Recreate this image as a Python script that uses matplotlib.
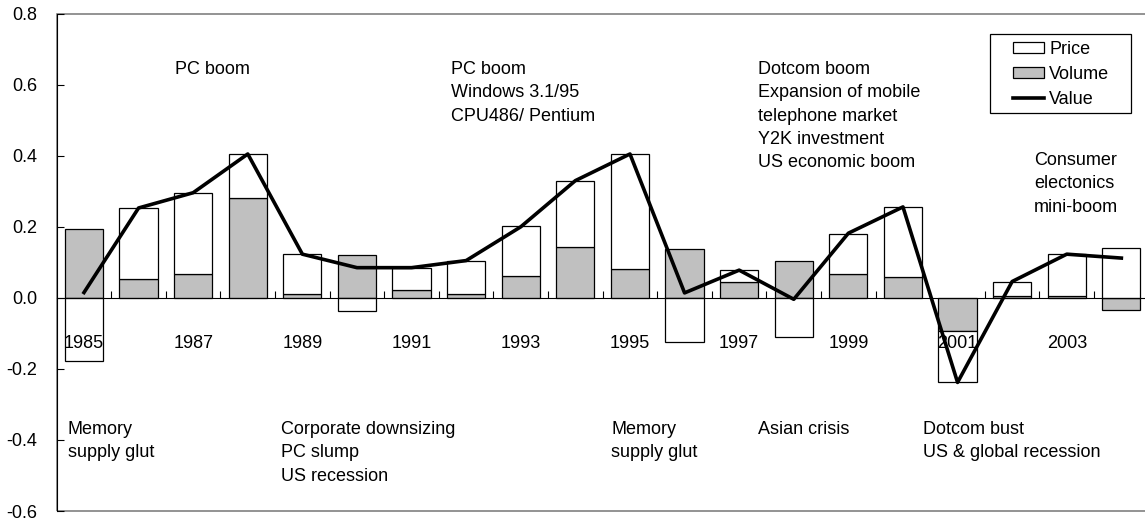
import numpy as np
import matplotlib.pyplot as plt
from matplotlib.patches import Rectangle
from matplotlib.ticker import FixedLocator, FormatStrFormatter

plt.rcParams['font.family'] = ['Liberation Sans', 'DejaVu Sans']

years = list(range(1985, 2005))
year_labels = [str(y) for y in years[::2]]

volume = [0.193, 0.052, 0.068, 0.282, 0.012, 0.121, 0.022, 0.012, 0.061, 0.144,
          0.082, 0.137, 0.045, 0.105, 0.068, 0.058, -0.093, 0.005, 0.006, -0.034]
price = [-0.179, 0.201, 0.228, 0.123, 0.111, -0.038, 0.063, 0.093, 0.141, 0.186,
         0.323, -0.123, 0.033, -0.110, 0.112, 0.198, -0.145, 0.039, 0.117, 0.140]
value = [0.015, 0.253, 0.296, 0.405, 0.123, 0.085, 0.085, 0.105, 0.200, 0.330,
         0.405, 0.014, 0.078, -0.004, 0.182, 0.256, -0.238, 0.046, 0.123, 0.112]

notes_top = ["PC boom",
             "PC boom\nWindows 3.1/95\nCPU486/ Pentium",
             "Dotcom boom\nExpansion of mobile\ntelephone market\nY2K investment\nUS economic boom",
             "Consumer\nelectonics\nmini-boom"]
notes_bottom = ["Memory\nsupply glut",
                "Corporate downsizing\nPC slump\nUS recession",
                "Memory\nsupply glut",
                "Asian crisis",
                "Dotcom bust\nUS & global recession"]


def main():
    fs = 13
    W, H = 1145, 520
    x = np.arange(len(years))
    vol = np.array(volume)
    pr = np.array(price)
    # price stacks on volume when signs agree
    bottom = np.where(np.sign(pr) == np.sign(vol), vol, 0.0)

    fig = plt.figure(figsize=(W / 100, H / 100), dpi=100)
    ax = fig.add_axes([0.0495, 0.0173, 0.9537, 0.9564])

    b_vol = ax.bar(x, vol, width=0.7, color="#c0c0c0", edgecolor="black", linewidth=0.9,
                   label="Volume", zorder=2)
    b_pr = ax.bar(x, pr, width=0.7, bottom=bottom, color="white", edgecolor="black",
                  linewidth=0.9, label="Price", zorder=2)
    ln, = ax.plot(x, value, color="black", linewidth=2.6, label="Value", zorder=3)

    ax.set_xlim(-0.5, 19.5)
    ax.set_ylim(-0.6, 0.8)

    # 边框
    for s in ["top", "right"]:
        ax.spines[s].set_visible(False)
    ax.spines["left"].set_color("black")
    ax.spines["bottom"].set_position(("data", 0))
    ax.spines["bottom"].set_color("black")
    ax.spines["bottom"].set_zorder(4)
    ax.add_patch(Rectangle((0, 0), 1, 1, transform=ax.transAxes, fill=False,
                           edgecolor="#808080", linewidth=1.2, clip_on=False, zorder=1))

    # 刻度
    ax.set_yticks(np.arange(-0.6, 0.81, 0.2))
    ax.yaxis.set_major_formatter(FormatStrFormatter("%.1f"))
    ax.tick_params(axis="y", direction="in", length=5, width=0.8, pad=14, labelsize=fs)

    ax.xaxis.set_major_locator(FixedLocator(x[:-1] + 0.5))
    ax.xaxis.set_minor_locator(FixedLocator(x[::2]))
    ax.set_xticklabels([], minor=False)
    ax.set_xticklabels(year_labels, minor=True)
    ax.tick_params(axis="x", which="major", direction="in", length=5, width=0.8)
    ax.tick_params(axis="x", which="minor", length=0, pad=27, labelsize=fs)
    ax.xaxis.set_zorder(5)

    # 注释
    top_pos = [(1.667, 0.667), (6.73, 0.667), (12.34, 0.667), (17.4, 0.411)]
    bottom_pos = [(-0.293, -0.346), (3.61, -0.346), (9.66, -0.346),
                  (12.34, -0.346), (15.36, -0.346)]
    for txt, (tx, ty) in zip(notes_top + notes_bottom, top_pos + bottom_pos):
        ax.text(tx, ty, txt, fontsize=fs, ha="left", va="top", linespacing=1.49)

    # 图例
    fig.patches.append(Rectangle((990 / W, 1 - 113 / H), 141 / W, 79 / H,
                                 transform=fig.transFigure, fill=False,
                                 edgecolor="black", linewidth=0.9))
    leg = ax.legend([b_pr, b_vol, ln], ["Price", "Volume", "Value"],
                    loc="upper left", bbox_to_anchor=(1013 / W, 1 - 41 / H),
                    bbox_transform=fig.transFigure, fontsize=fs, frameon=False,
                    handlelength=1.7, handleheight=0.55, handletextpad=0.3,
                    labelspacing=0.45, borderpad=0, borderaxespad=0)

    plt.savefig("out.png", dpi=100)


if __name__ == '__main__':
    main()
